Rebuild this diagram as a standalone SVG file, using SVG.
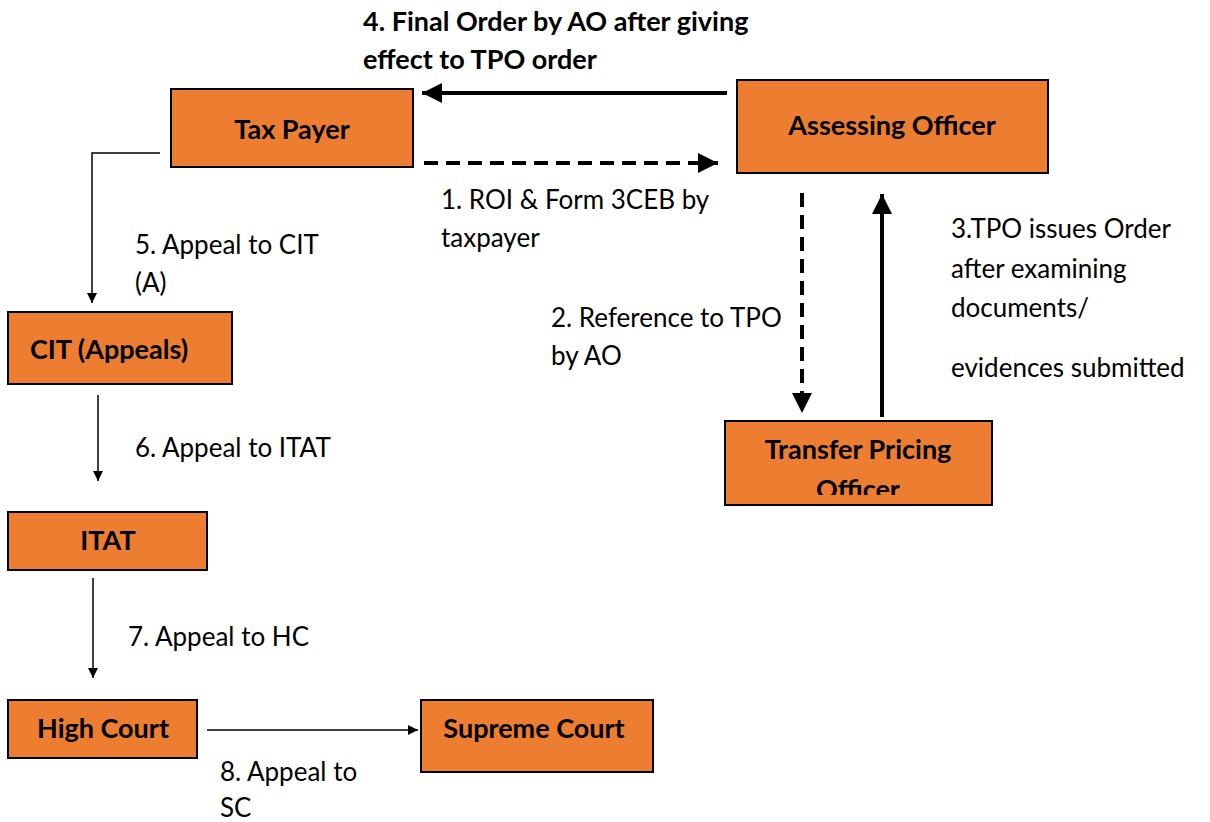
<svg xmlns="http://www.w3.org/2000/svg" width="1210" height="822" viewBox="0 0 1210 822">
<style>
.box{fill:#ED7D31;stroke:#000;stroke-width:2}
.bt{font-family:Lato,"Liberation Sans",sans-serif;font-weight:bold;font-size:27px;fill:#000}
.lt{font-family:Lato,"Liberation Sans",sans-serif;font-size:26px;fill:#000}
.thin{stroke:#000;stroke-width:1.5;fill:none}
.thick{stroke:#000;stroke-width:4;fill:none}
.dash{stroke:#000;stroke-width:4;fill:none;stroke-dasharray:14,8}
</style>
<defs>
<marker id="ah" viewBox="0 0 10 10" refX="10" refY="5" markerWidth="10" markerHeight="10" markerUnits="userSpaceOnUse" orient="auto"><path d="M0,0 L10,5 L0,10 z" fill="#000"/></marker>
<marker id="ahb" viewBox="0 0 10 10" refX="10" refY="5" markerWidth="5" markerHeight="5" orient="auto"><path d="M0,0 L10,5 L0,10 z" fill="#000"/></marker>
<clipPath id="tpoclip"><rect x="725" y="421" width="267" height="74"/></clipPath>
</defs>
<rect width="1210" height="822" fill="#fff"/>
<g id="connectors">
<line class="thick" x1="727" y1="93" x2="422" y2="93" marker-end="url(#ahb)"/>
<line class="dash" x1="424" y1="163" x2="718" y2="163" marker-end="url(#ahb)"/>
<line class="dash" x1="802" y1="193" x2="802" y2="413" marker-end="url(#ahb)"/>
<line class="thick" x1="882" y1="417" x2="882" y2="194" marker-end="url(#ahb)"/>
<polyline class="thin" points="160,153 92,153 92,303" marker-end="url(#ah)"/>
<line class="thin" x1="98" y1="395" x2="98" y2="481" marker-end="url(#ah)"/>
<line class="thin" x1="93" y1="578" x2="93" y2="678" marker-end="url(#ah)"/>
<line class="thin" x1="207" y1="730" x2="418" y2="730" marker-end="url(#ah)"/>
</g>
<g id="labels">
<text class="bt" x="363" y="31">4. Final Order by AO after giving</text>
<text class="bt" x="363" y="69">effect to TPO order</text>
<text class="lt" x="441" y="209">1. ROI &amp; Form 3CEB by</text>
<text class="lt" x="441" y="247">taxpayer</text>
<text class="lt" x="551" y="327">2. Reference to TPO</text>
<text class="lt" x="551" y="365">by AO</text>
<text class="lt" x="951" y="238">3.TPO issues Order</text>
<text class="lt" x="951" y="278">after examining</text>
<text class="lt" x="951" y="317">documents/</text>
<text class="lt" x="951" y="377">evidences submitted</text>
<text class="lt" x="135" y="254">5. Appeal to CIT</text>
<text class="lt" x="135" y="292">(A)</text>
<text class="lt" x="135" y="457">6. Appeal to ITAT</text>
<text class="lt" x="128" y="646">7. Appeal to HC</text>
<text class="lt" x="220" y="781">8. Appeal to</text>
<text class="lt" x="220" y="817">SC</text>
</g>
<g id="taxpayer"><rect class="box" x="171" y="89" width="242" height="78"/><text class="bt" x="292" y="139" text-anchor="middle">Tax Payer</text></g>
<g id="ao"><rect class="box" x="737" y="80" width="311" height="93"/><text class="bt" x="892" y="135" text-anchor="middle">Assessing Officer</text></g>
<g id="tpo"><rect class="box" x="725" y="421" width="267" height="84"/><g clip-path="url(#tpoclip)"><text class="bt" x="858" y="459" text-anchor="middle">Transfer Pricing</text><text class="bt" x="858" y="499" text-anchor="middle">Officer</text></g></g>
<g id="cit"><rect class="box" x="8" y="312" width="224" height="72"/><text class="bt" x="30" y="359">CIT (Appeals)</text></g>
<g id="itat"><rect class="box" x="8" y="512" width="199" height="58"/><text class="bt" x="108" y="550" text-anchor="middle">ITAT</text></g>
<g id="hc"><rect class="box" x="8" y="700" width="189" height="58"/><text class="bt" x="103" y="738" text-anchor="middle">High Court</text></g>
<g id="sc"><rect class="box" x="421" y="700" width="232" height="72"/><text class="bt" x="534" y="738" text-anchor="middle">Supreme Court</text></g>
</svg>
